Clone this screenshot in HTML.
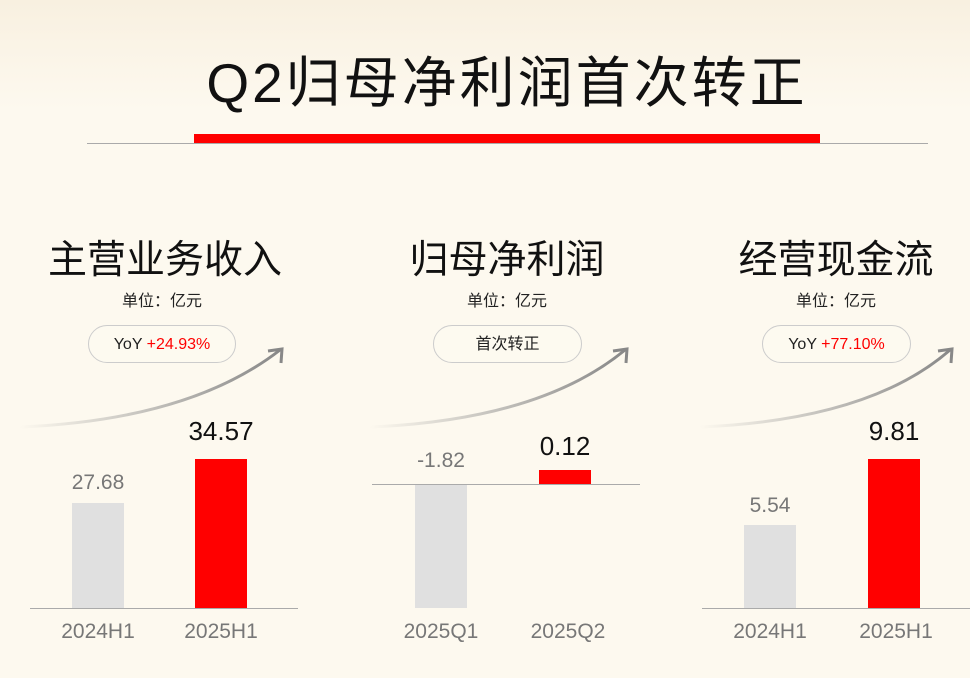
<!DOCTYPE html><html><head><meta charset="utf-8"><style>
body{margin:0;width:970px;height:678px;overflow:hidden;background:#fdf9ef;font-family:"Liberation Sans","Noto Sans CJK SC",sans-serif;position:relative}
.a{position:absolute;white-space:nowrap}
.c{transform:translateX(-50%)}
.t{font-size:39px;color:#111;top:229px}
.u{font-size:16px;color:#222;top:287px}
.p{height:38px;border:1px solid #ccc;border-radius:20px;top:325px;box-sizing:border-box;font-size:16px;text-align:center;line-height:38px;color:#222;background:#fdfaf0}
.r{color:#f00}
.b{background:#e0e0e0;width:52px}
.rb{background:#f00;width:52px}
.v{font-size:21px;color:#777}
.vb{font-size:26px;color:#111}
.x{font-size:21px;color:#777;top:620px}
.l{height:1px;background:#aaa}
</style></head><body>
<div style="position:absolute;left:0;top:0;width:970px;height:110px;background:linear-gradient(180deg,#f8f0e0,#fdf9ef)"></div>
<div class="a c" style="left:507px;top:38px;font-size:55px;letter-spacing:3px;color:#111">Q2归母净利润首次转正</div>
<div class="a l" style="left:87px;top:143px;width:841px"></div>
<div class="a" style="left:194px;top:134px;width:626px;height:9px;background:#f00"></div>

<svg class="a" style="left:0;top:0" width="970" height="678">
<defs><linearGradient id="g" x1="0" x2="1"><stop offset="0" stop-color="#fdf9ef"/><stop offset="1" stop-color="#888"/></linearGradient></defs>
<g fill="none" stroke="url(#g)" stroke-width="3">
<path d="M20 427 Q190 420 280 350"/>
<path d="M370 427 Q540 420 625 350"/>
<path d="M700 427 Q870 420 950 350"/>
</g>
<g fill="none" stroke="#888" stroke-width="3">
<path d="M268 351 L282 349 L281 363"/>
<path d="M613 351 L627 349 L626 363"/>
<path d="M938 351 L952 349 L951 363"/>
</g></svg>

<div class="a c t" style="left:165px">主营业务收入</div>
<div class="a c u" style="left:162px">单位：亿元</div>
<div class="a p" style="left:88px;width:148px">YoY <span class="r">+24.93%</span></div>
<div class="a b" style="left:72px;top:503px;height:105px"></div>
<div class="a rb" style="left:195px;top:459px;height:149px"></div>
<div class="a c v" style="left:98px;top:471px">27.68</div>
<div class="a c vb" style="left:221px;top:416px">34.57</div>
<div class="a l" style="left:30px;top:608px;width:268px"></div>
<div class="a c x" style="left:98px">2024H1</div>
<div class="a c x" style="left:221px">2025H1</div>

<div class="a c t" style="left:507px">归母净利润</div>
<div class="a c u" style="left:507px">单位：亿元</div>
<div class="a p" style="left:433px;width:149px">首次转正</div>
<div class="a b" style="left:415px;top:485px;height:123px"></div>
<div class="a rb" style="left:539px;top:470px;height:15px"></div>
<div class="a c v" style="left:441px;top:449px">-1.82</div>
<div class="a c vb" style="left:565px;top:431px">0.12</div>
<div class="a l" style="left:372px;top:484px;width:268px"></div>
<div class="a c x" style="left:441px">2025Q1</div>
<div class="a c x" style="left:568px">2025Q2</div>

<div class="a c t" style="left:836px">经营现金流</div>
<div class="a c u" style="left:836px">单位：亿元</div>
<div class="a p" style="left:762px;width:149px">YoY <span class="r">+77.10%</span></div>
<div class="a b" style="left:744px;top:525px;height:83px"></div>
<div class="a rb" style="left:868px;top:459px;height:149px"></div>
<div class="a c v" style="left:770px;top:494px">5.54</div>
<div class="a c vb" style="left:894px;top:416px">9.81</div>
<div class="a l" style="left:702px;top:608px;width:268px"></div>
<div class="a c x" style="left:770px">2024H1</div>
<div class="a c x" style="left:896px">2025H1</div>
</body></html>
